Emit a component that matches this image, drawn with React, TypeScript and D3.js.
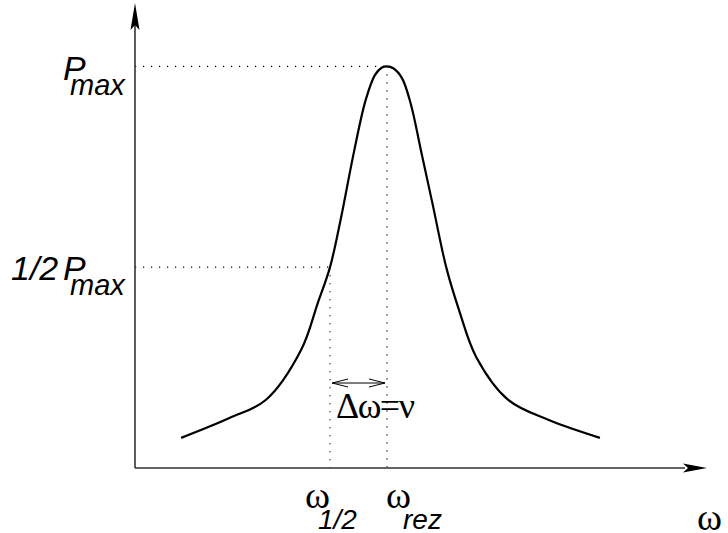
import React from "react";
import * as d3 from "d3";

// Resonance curve: frequency (in units of ω_rez) vs. power (% of Pmax)
const omegaValues = [0.183, 0.377, 0.52, 0.66, 0.725, 0.774, 0.815, 0.87, 0.915, 0.952, 0.98, 1.0, 1.025, 1.06, 1.095, 1.135, 1.18, 1.235, 1.285, 1.355, 1.48, 1.64, 1.845];
const powerValues = [7.5, 12.5, 17, 29.5, 41, 50, 61.5, 79, 91.5, 97.8, 99.7, 100, 99.5, 97, 90.5, 79, 66, 50, 39.5, 27.5, 17, 12, 7.5];
const omegaHalf = 0.774;
const omegaRez = 1.0;
const pMax = 100;
const omegaAxisMax = 2.27;
const powerAxisMax = 116.5;

const W = 728;
const H = 533;
const X0 = 135;
const Y0 = 468;

export default function App() {
  const x = d3.scaleLinear().domain([0, omegaAxisMax]).range([X0, 707]);
  const y = d3.scaleLinear().domain([0, powerAxisMax]).range([Y0, 0]);
  const pts: [number, number][] = omegaValues.map((w, i) => [w, powerValues[i]]);
  const line = d3
    .line<[number, number]>()
    .x((d) => x(d[0]))
    .y((d) => y(d[1]))
    .curve(d3.curveCatmullRom.alpha(0.5));

  const yMax = y(pMax);
  const yHalf = y(pMax / 2);
  const xRez = x(omegaRez);
  const xHalf = x(omegaHalf);
  const dot = { stroke: "#000", strokeWidth: 1.2, strokeDasharray: "1.2,6.8", fill: "none" };
  const sans = "'Liberation Sans', Arial, sans-serif";
  const serif = "'Liberation Serif', 'Times New Roman', serif";
  const arrowY = 383;

  return (
    <svg width={W} height={H} style={{ position: "absolute", left: 0, top: 0, background: "#fff" }}>
      {/* dotted guides */}
      <line x1={X0} x2={xRez} y1={yMax} y2={yMax} style={dot} />
      <line x1={X0} x2={xHalf} y1={yHalf} y2={yHalf} style={dot} />
      <line x1={xRez} x2={xRez} y1={yMax} y2={Y0} style={dot} />
      <line x1={xHalf} x2={xHalf} y1={yHalf} y2={Y0} style={dot} />

      {/* axes */}
      <line x1={X0} x2={X0} y1={Y0} y2={25} stroke="#333" strokeWidth={1.6} />
      <line x1={X0} x2={685} y1={Y0} y2={Y0} stroke="#333" strokeWidth={1.6} />
      <path d={`M${X0},3 L${X0 + 4.5},30 L${X0},25 L${X0 - 4.5},30 Z`} fill="#000" />
      <path d={`M707,${Y0} L683,${Y0 - 4.5} L688,${Y0} L683,${Y0 + 4.5} Z`} fill="#000" />

      {/* curve */}
      <path d={line(pts) || ""} fill="none" stroke="#000" strokeWidth={2.2} />

      {/* Δω double arrow */}
      <g stroke="#000" strokeWidth={1} fill="none">
        <line x1={xHalf + 2} x2={xRez - 2} y1={arrowY} y2={arrowY} />
        <polyline points={`${xHalf + 18},${arrowY - 4} ${xHalf + 2},${arrowY} ${xHalf + 18},${arrowY + 4}`} />
        <polyline points={`${xRez - 18},${arrowY - 4} ${xRez - 2},${arrowY} ${xRez - 18},${arrowY + 4}`} />
      </g>
      <text x={336} y={418} fontFamily={serif} fontSize={36} letterSpacing={-1.5}>Δω=ν</text>

      {/* y labels */}
      <text x={63} y={80} fontFamily={sans} fontStyle="italic" fontSize={34}>P</text>
      <text x={70} y={95} fontFamily={sans} fontStyle="italic" fontSize={29}>max</text>
      <text x={11} y={280} fontFamily={sans} fontStyle="italic" fontSize={34}>1/2</text>
      <text x={63} y={280} fontFamily={sans} fontStyle="italic" fontSize={34}>P</text>
      <text x={70} y={295} fontFamily={sans} fontStyle="italic" fontSize={29}>max</text>

      {/* x labels */}
      <text x={305} y={508} fontFamily={serif} fontSize={38}>ω</text>
      <text x={318} y={529} fontFamily={sans} fontStyle="italic" fontSize={28}>1/2</text>
      <text x={386} y={508} fontFamily={serif} fontSize={38}>ω</text>
      <text x={403} y={529} fontFamily={sans} fontStyle="italic" fontSize={28}>rez</text>
      <text x={697} y={530} fontFamily={serif} fontSize={38}>ω</text>
    </svg>
  );
}
